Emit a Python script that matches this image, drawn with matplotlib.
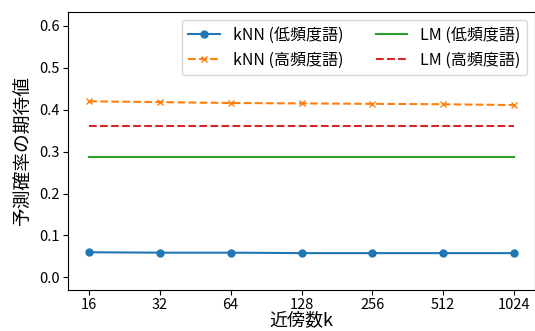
import matplotlib
matplotlib.use("Agg")
import matplotlib.pyplot as plt
import numpy as np

plt.rcParams['font.family'] = ['Noto Sans CJK JP', 'DejaVu Sans']

k = [16, 32, 64, 128, 256, 512, 1024]
knn_low = [0.060, 0.059, 0.059, 0.058, 0.058, 0.058, 0.058]
knn_high = [0.420, 0.418, 0.416, 0.415, 0.414, 0.413, 0.411]
lm_low = 0.287
lm_high = 0.362

fig = plt.figure(figsize=(5.35, 3.31), dpi=100)
ax = fig.add_axes([68 / 535, 41 / 331, 467 / 535, 278 / 331])

ax.plot(k, knn_low, marker='o', markersize=5, color='tab:blue', label='kNN (低頻度語)')
ax.plot(k, knn_high, marker='x', markersize=5, linestyle='--', color='tab:orange', label='kNN (高頻度語)')
ax.plot(k, [lm_low] * len(k), color='tab:green', label='LM (低頻度語)')
ax.plot(k, [lm_high] * len(k), linestyle='--', color='tab:red', label='LM (高頻度語)')

ax.set_xscale('log', base=2)
ax.set_xticks(k)
ax.set_xticklabels([str(v) for v in k])
ax.minorticks_off()
ax.set_ylim(-0.03, 0.633)
ax.set_yticks(np.arange(0, 0.61, 0.1))
ax.tick_params(labelsize=10.5, pad=2.5)
ax.set_xlabel('近傍数k', fontsize=13, labelpad=-1)
ax.set_ylabel('予測確率の期待値', fontsize=13.5)
ax.legend(ncol=2, fontsize=11.5, loc='upper right')

fig.savefig('out.png', dpi=100)
